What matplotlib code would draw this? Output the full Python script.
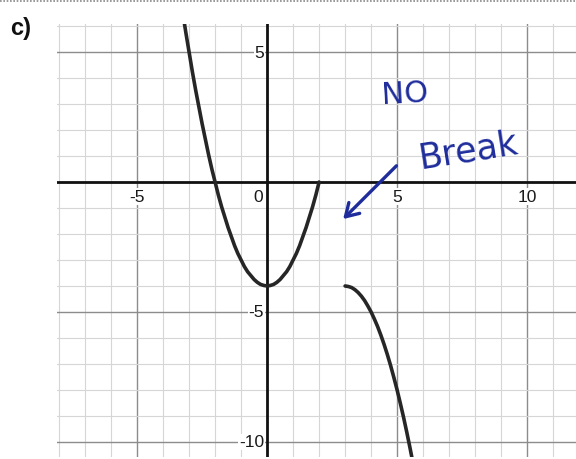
import matplotlib
matplotlib.use("Agg")
import matplotlib.pyplot as plt
from matplotlib.lines import Line2D

# left branch of the sketch (parabola down to the x axis at x = 2)
left_x = [-3.25, -3.125, -3.0, -2.875, -2.75, -2.625, -2.5, -2.375, -2.25, -2.125,
          -2.0, -1.875, -1.75, -1.625, -1.5, -1.375, -1.25, -1.125, -1.0, -0.875,
          -0.75, -0.625, -0.5, -0.375, -0.25, -0.125, 0.0, 0.125, 0.25, 0.375,
          0.5, 0.625, 0.75, 0.875, 1.0, 1.125, 1.25, 1.375, 1.5, 1.625, 1.75,
          1.875, 2.0]
left_y = [6.55, 5.75, 5.0, 4.25, 3.55, 2.9, 2.25, 1.65, 1.05, 0.5,
          0.0, -0.5, -0.95, -1.35, -1.75, -2.1, -2.45, -2.75, -3.0, -3.25,
          -3.45, -3.6, -3.75, -3.86, -3.94, -3.98, -4.0, -3.98, -3.94, -3.86,
          -3.75, -3.6, -3.45, -3.25, -3.0, -2.75, -2.45, -2.1, -1.75, -1.35, -0.95,
          -0.5, 0.0]

# right branch, starting at (3, -4) and falling off the bottom
right_x = [3.0, 3.125, 3.25, 3.375, 3.5, 3.625, 3.75, 3.875, 4.0, 4.125, 4.25,
           4.375, 4.5, 4.625, 4.75, 4.875, 5.0, 5.125, 5.25, 5.375, 5.5, 5.625]
right_y = [-4.0, -4.02, -4.06, -4.14, -4.25, -4.39, -4.56, -4.77, -5.0, -5.27, -5.56,
           -5.89, -6.25, -6.64, -7.06, -7.52, -8.0, -8.52, -9.06, -9.64, -10.25, -10.89]

x_labels = [-5, 0, 5, 10]
y_labels = [5, -5, -10]

x_range = (-8.08, 11.88)
y_range = (-10.58, 6.08)

ink = "#1f2d9c"


def draw_grid(ax):
    """Square grid paper: light lines every unit, darker every five."""
    for v in range(-8, 12):
        if v == 0:
            continue
        major = v % 5 == 0
        ax.axvline(v, color="#8c8c8c" if major else "#d6d6d6",
                   lw=1.0 if major else 0.8, zorder=1)
    for v in range(-10, 7):
        if v == 0:
            continue
        major = v % 5 == 0
        ax.axhline(v, color="#8c8c8c" if major else "#d6d6d6",
                   lw=1.0 if major else 0.8, zorder=1)
    ax.axhline(0, color="#111111", lw=2.0, zorder=2)
    ax.axvline(0, color="#111111", lw=2.0, zorder=2)


def main():
    fig = plt.figure(figsize=(5.76, 4.6), dpi=100)
    ax = fig.add_axes([57 / 576, 2 / 460, 519 / 576, 433 / 460])
    ax.set_xlim(*x_range)
    ax.set_ylim(*y_range)
    ax.axis("off")

    draw_grid(ax)

    label_box = dict(facecolor="white", edgecolor="none", pad=0.5)
    for v in x_labels:
        if v == 0:
            ax.text(-0.15, -0.55, "0", ha="right", va="center", fontsize=12.5,
                    family="Liberation Sans", color="#1a1a1a", zorder=3)
        else:
            ax.text(v, -0.55, str(v), ha="center", va="center", fontsize=12.5,
                    family="Liberation Sans", color="#1a1a1a", bbox=label_box, zorder=3)
    for v in y_labels:
        ax.text(-0.12, v, str(v), ha="right", va="center", fontsize=12.5,
                family="Liberation Sans", color="#1a1a1a", bbox=label_box, zorder=3)

    ax.plot(left_x, left_y, color="#262626", lw=2.6, zorder=4,
            solid_capstyle="round", solid_joinstyle="round")
    ax.plot(right_x, right_y, color="#262626", lw=2.6, zorder=4,
            solid_capstyle="round", solid_joinstyle="round")

    # handwritten note
    ax.text(5.3, 3.4, "NO", color=ink, fontsize=22, ha="center", va="center",
            family="DejaVu Sans", rotation=3, zorder=5)
    ax.text(7.75, 1.25, "Break", color=ink, fontsize=25, ha="center", va="center",
            family="DejaVu Sans", rotation=9, zorder=5)
    ax.annotate("", xy=(2.85, -1.5), xytext=(5.05, 0.7),
                arrowprops=dict(arrowstyle="->,head_length=0.9,head_width=0.55",
                                color=ink, lw=2.4), zorder=5)

    # part label and the dotted cut line along the top
    fig.text(10 / 576, 1 - 28 / 460, "c)", fontsize=17, fontweight="bold",
             family="Liberation Sans", ha="left", va="center", color="#111111")
    fig.add_artist(Line2D([0, 1], [1 - 2 / 460, 1 - 2 / 460], transform=fig.transFigure,
                          color="#888888", lw=1.2, linestyle=(0, (1, 1))))

    fig.savefig("out.png", dpi=100, facecolor="white")


if __name__ == "__main__":
    main()
